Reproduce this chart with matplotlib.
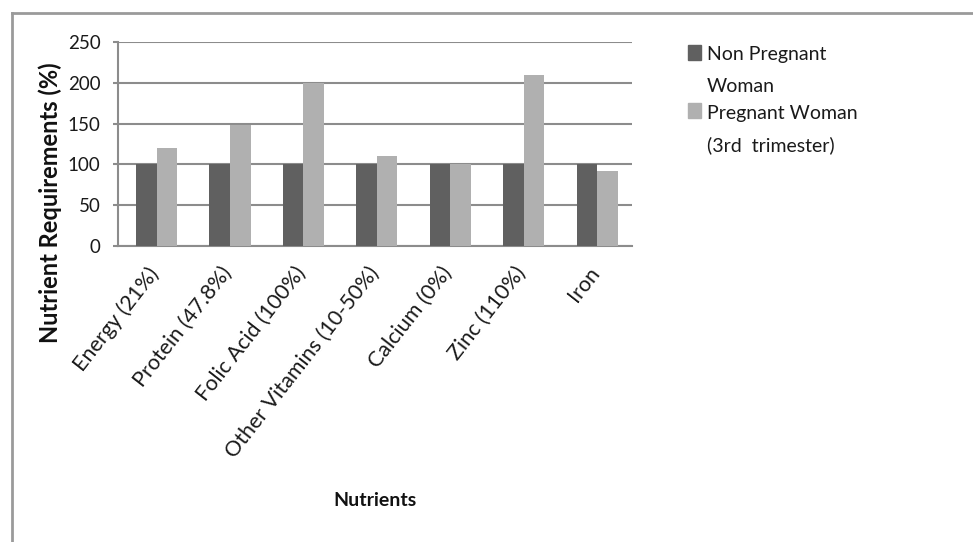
import matplotlib
matplotlib.use("Agg")
import matplotlib.pyplot as plt
import numpy as np
from matplotlib.lines import Line2D
from matplotlib.patches import Rectangle

plt.rcParams['font.family'] = ['Lato', 'DejaVu Sans']

categories = ["Energy (21%)", "Protein (47.8%)", "Folic Acid (100%)",
              "Other Vitamins (10-50%)", "Calcium (0%)", "Zinc (110%)", "Iron"]
non_pregnant = [100, 100, 100, 100, 100, 100, 100]
pregnant = [120, 147.8, 200, 110, 100, 210, 92]
series_labels = [["Non Pregnant", "Woman"], ["Pregnant Woman", "(3rd  trimester)"]]
y_ticks = [0, 50, 100, 150, 200, 250]

W, H = 973, 542
dark, light = "#606060", "#b0b0b0"
grid_c = "#8c8c8c"
text_c = "#1a1a1a"

fig = plt.figure(figsize=(W / 100, H / 100), dpi=100)
ax = fig.add_axes([118 / W, 1 - 246 / H, (632 - 118) / W, (246 - 42) / H])

x = np.arange(len(categories))
bw = 0.28
ax.bar(x - bw / 2 + 0.025, non_pregnant, bw, color=dark, zorder=3)
ax.bar(x + bw / 2 + 0.025, pregnant, bw, color=light, zorder=3)

ax.set_xlim(-0.5, len(categories) - 0.5)
ax.set_ylim(0, 250)
ax.set_yticks(y_ticks)
ax.yaxis.grid(True, color=grid_c, linewidth=1.5, zorder=0)
ax.set_axisbelow(True)
for s in ["top", "right"]:
    ax.spines[s].set_visible(False)
for s in ["left", "bottom"]:
    ax.spines[s].set_color(grid_c)
    ax.spines[s].set_linewidth(1.5)
ax.tick_params(axis="y", length=3.6, width=1.5, color=grid_c, labelsize=13.5, pad=9)
ax.tick_params(axis="x", length=0, labelsize=15.5, pad=17)
ax.set_xticks(x)
ax.set_xticklabels(categories, rotation=52, ha="right", va="center",
                   rotation_mode="anchor")
for lbl in ax.get_yticklabels() + ax.get_xticklabels():
    lbl.set_color(text_c)

fig.text(50 / W, 1 - 203 / H, "Nutrient Requirements (%)", rotation=90,
         ha="center", va="center", fontsize=17, fontweight="bold", color="#111111")
fig.text(375 / W, 1 - 500 / H, "Nutrients", ha="center", va="center",
         fontsize=14, fontweight="bold", color="#111111")

# legend: swatch aligned with the first line of each entry
legend_rows = [(dark, 45, [60, 92]), (light, 103, [119, 151])]
for (color, sq_top, baselines), lines in zip(legend_rows, series_labels):
    fig.add_artist(Rectangle((688 / W, 1 - (sq_top + 15) / H), 13 / W, 15 / H,
                             transform=fig.transFigure, color=color))
    for bl, line in zip(baselines, lines):
        fig.text(707 / W, 1 - bl / H, line, ha="left", va="baseline",
                 fontsize=14, color=text_c)

# outer frame of the chart area
fig.add_artist(Line2D([12 / W, 1.0], [1 - 13 / H, 1 - 13 / H], color="#9a9a9a",
                      linewidth=2, transform=fig.transFigure))
fig.add_artist(Line2D([12 / W, 12 / W], [1 - 13 / H, 0.0], color="#9a9a9a",
                      linewidth=2, transform=fig.transFigure))

fig.savefig("out.png", dpi=100)
